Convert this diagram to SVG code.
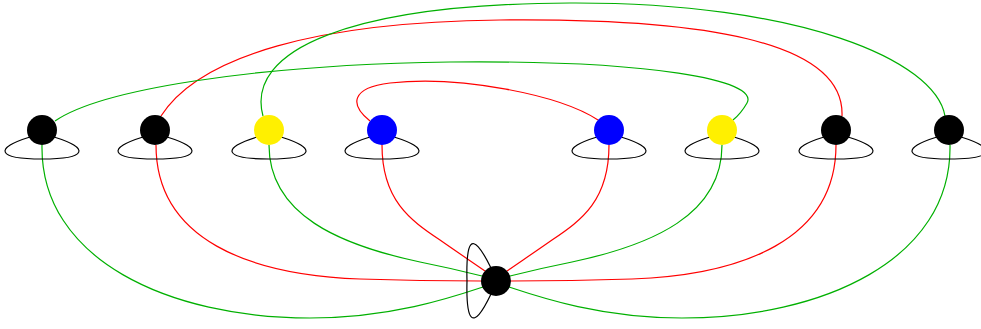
<svg xmlns="http://www.w3.org/2000/svg" width="981" height="329" viewBox="0 0 981 329">
<defs>
<style>
.e{fill:none;stroke-width:1.2}
.g{stroke:#00b000}
.r{stroke:#ff0000}
.loop{fill:none;stroke:#000;stroke-width:1.2}
.blk{fill:#000}
.yel{fill:#fff000}
.blu{fill:#0000ff}
</style>
<path id="lp" d="M -12,7 C -48,18 -46,29 0,29 C 46,29 48,18 12,7"/>
</defs>
<rect width="981" height="329" fill="#fff"/>
<g id="connectors">
<path class="e r" d="M 161,116 C 200,55 320,22 500,20 C 700,18 845,40 842,116"/>
<path class="e g" d="M 263,116 C 245,50 350,4 570,3 C 800,2 935,60 945,116"/>
<path class="e g" d="M 55,121 C 100,90 250,65 450,62 C 650,60 760,80 747,103 C 743,110 738,116 733,120"/>
<path class="e r" d="M 370,121 C 350,105 350,88 390,83 C 460,75 560,95 598,120"/>
<path class="e g" d="M 42,145 C 40,260 170,318 310,318 C 390,318 450,298 483,287"/>
<path class="e r" d="M 156,145 C 156,240 250,275 360,279 C 420,281 460,281 481,281"/>
<path class="e g" d="M 269,145 C 269,215 340,245 420,262 C 450,268 470,273 482,276"/>
<path class="e r" d="M 382,145 C 382,200 410,220 440,240 C 460,254 475,264 485,271"/>
<path class="e r" d="M 609,145 C 609,200 582,220 552,240 C 532,254 517,264 507,271"/>
<path class="e g" d="M 722,145 C 722,215 652,245 572,262 C 542,268 522,273 510,276"/>
<path class="e r" d="M 836,145 C 836,240 742,275 632,279 C 572,281 532,281 511,281"/>
<path class="e g" d="M 950,145 C 952,260 822,318 682,318 C 602,318 542,298 509,287"/>
<use href="#lp" class="loop" x="42" y="130"/>
<use href="#lp" class="loop" x="155" y="130"/>
<use href="#lp" class="loop" x="269" y="130"/>
<use href="#lp" class="loop" x="382" y="130"/>
<use href="#lp" class="loop" x="609" y="130"/>
<use href="#lp" class="loop" x="722" y="130"/>
<use href="#lp" class="loop" x="836" y="130"/>
<use href="#lp" class="loop" x="949" y="130"/>
<path class="loop" d="M 491,268 C 470,225 466,245 467,281 C 466,320 472,334 491,294"/>
</g>
<g id="n1"><circle class="blk" cx="42" cy="130" r="15"/></g>
<g id="n2"><circle class="blk" cx="155" cy="130" r="15"/></g>
<g id="n3"><circle class="yel" cx="269" cy="130" r="15"/></g>
<g id="n4"><circle class="blu" cx="382" cy="130" r="15"/></g>
<g id="n5"><circle class="blu" cx="609" cy="130" r="15"/></g>
<g id="n6"><circle class="yel" cx="722" cy="130" r="15"/></g>
<g id="n7"><circle class="blk" cx="836" cy="130" r="15"/></g>
<g id="n8"><circle class="blk" cx="949" cy="130" r="15"/></g>
<g id="n9"><circle class="blk" cx="496" cy="281" r="15"/></g>
</svg>
